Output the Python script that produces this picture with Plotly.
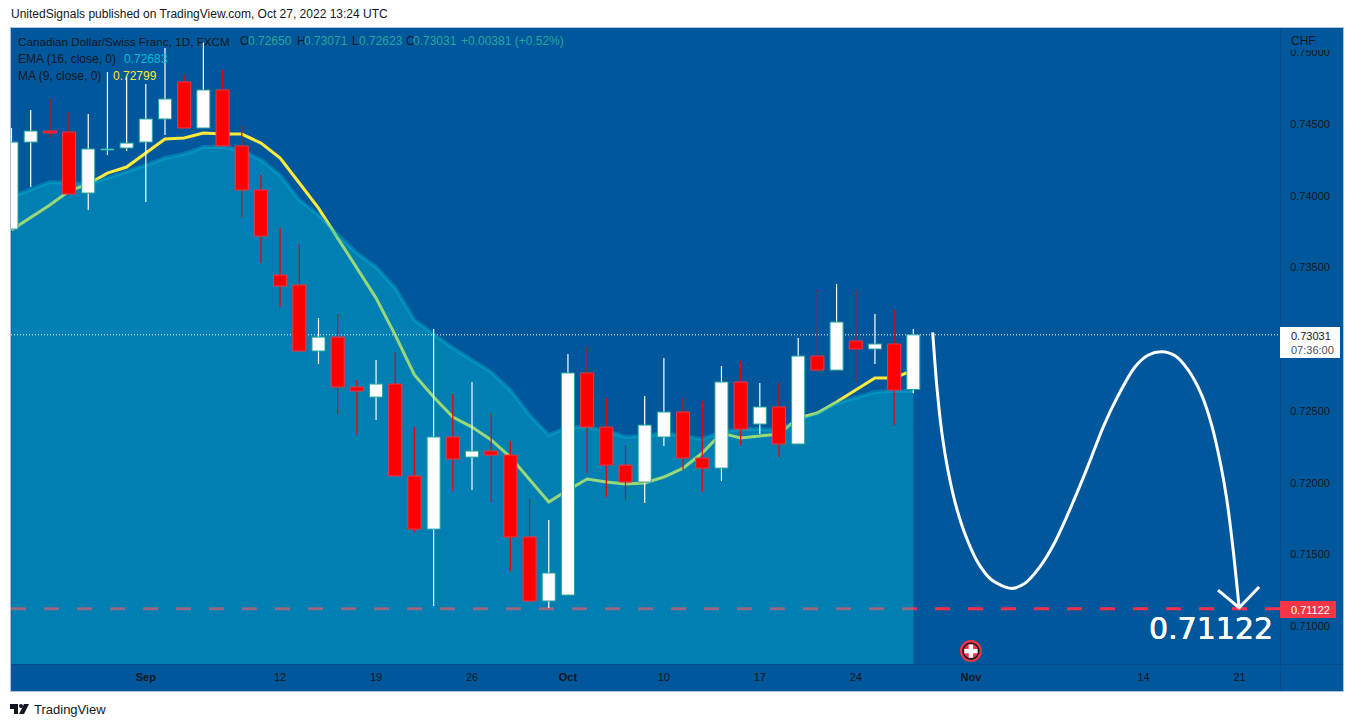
import plotly.graph_objects as go

# daily CADCHF candles (last one is Oct 27)
opens = [.73768, .74374, .74451, .74444, .74019, .74319, .74333, .74374, .74535, .74793, .74472, .74737,
         .74347, .74040, .73448, .73378, .72918, .73015, .72667, .72597, .72688, .72047, .71677, .72319,
         .72179, .72221, .72193, .71622, .71176, .71217, .72765, .72388, .72123, .72005, .72319, .72493,
         .72172, .72102, .72702, .72409, .72528, .72270, .72883, .72785, .72988, .72932, .72967, .72650]
highs = [.74472, .74597, .74674, .74583, .74570, .74862, .74827, .74779, .75030, .74841, .75071, .74876,
         .74486, .74144, .73775, .73664, .73148, .73176, .72716, .72855, .72911, .72388, .73071, .72618,
         .72702, .72486, .72291, .71886, .71740, .72897, .72946, .72590, .72263, .72604, .72869, .72590,
         .72569, .72813, .72848, .72695, .72695, .73008, .73343, .73385, .73343, .73176, .73204, .73071]
lows = [.73768, .74061, .74409, .74012, .73901, .74284, .74312, .73956, .74423, .74472, .74472, .74347,
        .73852, .73531, .73225, .72918, .72827, .72472, .72332, .72437, .72047, .71656, .71141, .71942,
        .71949, .71866, .71385, .71176, .71127, .71217, .72068, .71900, .71879, .71859, .72256, .72089,
        .71935, .72012, .72263, .72339, .72179, .72270, .72765, .72785, .72695, .72827, .72402, .72623]
closes = [.74374, .74451, .74437, .74012, .74326, .74326, .74367, .74535, .74674, .74472, .74737, .74347,
          .74040, .73719, .73371, .72918, .73015, .72667, .72639, .72688, .72047, .71677, .72319, .72165,
          .72221, .72193, .71622, .71176, .71371, .72765, .72388, .72123, .72005, .72402, .72493, .72172,
          .72102, .72702, .72374, .72528, .72270, .72883, .72785, .73120, .72932, .72967, .72646, .73031]
ema16 = [.73991, .74040, .74096, .74089, .74082, .74123, .74165, .74214, .74263, .74291, .74340, .74340,
         .74319, .74249, .74144, .73970, .73866, .73726, .73601, .73503, .73357, .73134, .73036, .72939,
         .72855, .72772, .72646, .72472, .72332, .72388, .72388, .72360, .72319, .72326, .72346, .72326,
         .72305, .72353, .72374, .72374, .72367, .72437, .72486, .72556, .72597, .72632, .72639, .72639]
ma9 = [.73761, .73845, .73935, .74033, .74082, .74158, .74200, .74298, .74395, .74402, .74437, .74430,
       .74430, .74367, .74263, .74089, .73914, .73705, .73496, .73287, .73029, .72751, .72597, .72458,
       .72388, .72298, .72179, .72019, .71866, .71949, .72026, .72005, .71991, .71998, .72040, .72102,
       .72207, .72346, .72312, .72326, .72339, .72451, .72486, .72563, .72646, .72730, .72730, .72785]
days = list(range(len(closes)))

last_price = 0.73031
target_price = 0.71122

# hand drawn forecast on the chart
path_x = [48.01, 48.22, 48.48, 48.82, 49.26, 49.78, 50.39, 51.09, 52.09, 52.82, 53.60, 54.39, 55.26, 56.12,
          56.90, 57.69, 58.56, 59.25, 59.95, 60.64, 61.33, 62.03, 62.55, 62.99, 63.33, 63.68, 63.98]
path_y = [.73048, .72681, .72356, .72077, .71822, .71613, .71438, .71322, .71264, .71299, .71415, .71589, .71845, .72123,
          .72390, .72611, .72808, .72890, .72913, .72885, .72785, .72611, .72402, .72146, .71891, .71519, .71129]
head_x = [62.88, 63.98, 65.02]
head_y = [.71252, .71129, .71273]

x_ticks = [7, 14, 19, 24, 29, 34, 39, 44, 50, 59, 64]
x_labels = ["<b>Sep</b>", "12", "19", "26", "<b>Oct</b>", "10", "17", "24", "<b>Nov</b>", "14", "21"]
y_ticks = [.75, .745, .74, .735, .725, .72, .715, .71]
y_labels = ["0.75000", "0.74500", "0.74000", "0.73500", "0.72500", "0.72000", "0.71500", "0.71000"]

X_RANGE = [-0.026, 66.11]
Y_RANGE = [.70737, .75169]

W, H = 1354, 727
L, R, T, B = 11, 1280, 28, 664
BG = "#01579b"
DARK = "#131722"
UP_LINE = "#26a69a"
DOWN_LINE = "#f23645"
FONT = "Liberation Sans"


def px(x):
    return (x - L) / (R - L)


def py(y):
    return (B - y) / (B - T)


fig = go.Figure()

# base layer: the area has to sit over the MA and the target line
fig.add_trace(go.Scatter(x=X_RANGE, y=[target_price, target_price], mode="lines",
                         line=dict(color="#ff2f4a", width=3, dash="15px,18px")))
fig.add_trace(go.Scatter(x=days, y=ma9, mode="lines", line=dict(color="#ffeb3b", width=3)))
fig.add_trace(go.Scatter(x=days, y=ema16, mode="lines", fill="tozeroy", fillcolor="rgba(0,188,212,0.4)",
                         line=dict(color="rgba(0,188,212,0.35)", width=4)))
fig.add_trace(go.Scatter(x=X_RANGE, y=[last_price, last_price], mode="lines",
                         line=dict(color="white", width=1, dash="1px,2px")))

# wicks on the second layer, bodies on the third so they cover the wicks
wick_x = {"up": [], "down": []}
wick_y = {"up": [], "down": []}
for d, o, h, l, c in zip(days, opens, highs, lows, closes):
    side = "up" if c >= o else "down"
    wick_x[side] += [d, d, None]
    wick_y[side] += [l, h, None]
fig.add_trace(go.Scatter(x=wick_x["up"], y=wick_y["up"], mode="lines", xaxis="x2", yaxis="y2",
                         line=dict(color="white", width=1.2)))
fig.add_trace(go.Scatter(x=wick_x["down"], y=wick_y["down"], mode="lines", xaxis="x2", yaxis="y2",
                         line=dict(color="#f00000", width=1.2)))

fig.add_trace(go.Bar(
    x=days,
    y=[abs(c - o) for o, c in zip(opens, closes)],
    base=[min(o, c) for o, c in zip(opens, closes)],
    width=0.68,
    marker=dict(
        color=["white" if c >= o else "#ff0000" for o, c in zip(opens, closes)],
        line=dict(color=[UP_LINE if c >= o else DOWN_LINE for o, c in zip(opens, closes)], width=1),
    ),
    xaxis="x3", yaxis="y3",
))

# forecast path and arrow head
fig.add_trace(go.Scatter(x=path_x, y=path_y, mode="lines", xaxis="x3", yaxis="y3",
                         line=dict(color="white", width=3, shape="spline", smoothing=0.8)))
fig.add_trace(go.Scatter(x=head_x, y=head_y, mode="lines", xaxis="x3", yaxis="y3",
                         line=dict(color="white", width=3)))

# event flag
for size, color, symbol, edge in [(22, DOWN_LINE, "circle", 0), (16, DOWN_LINE, "circle", 1.5), (11, "white", "cross", 0)]:
    fig.add_trace(go.Scatter(x=[50], y=[.70827], mode="markers", xaxis="x3", yaxis="y3",
                             marker=dict(size=size, color=color, symbol=symbol, line=dict(color=DARK, width=edge))))

fig.update_traces(hoverinfo="skip", showlegend=False)

overlay = dict(range=X_RANGE, visible=False, fixedrange=True)
overlay_y = dict(range=Y_RANGE, visible=False, fixedrange=True)
fig.update_layout(
    width=W, height=H,
    margin=dict(l=L, r=W - R, t=T, b=H - B, pad=0),
    paper_bgcolor="white",
    plot_bgcolor="rgba(0,0,0,0)",
    barmode="overlay",
    font=dict(family=FONT, color=DARK, size=11),
    xaxis=dict(range=X_RANGE, tickvals=x_ticks, ticktext=x_labels, showgrid=False, zeroline=False,
               ticks="outside", ticklen=3, tickcolor="rgba(0,0,0,0)", showline=False, tickfont=dict(size=11, color=DARK)),
    yaxis=dict(range=Y_RANGE, tickvals=y_ticks, ticktext=y_labels, side="right", showgrid=False, zeroline=False,
               ticks="outside", ticklen=7, tickcolor="rgba(0,0,0,0)", showline=False, tickfont=dict(size=11, color=DARK)),
    xaxis2=dict(overlaying="x", **overlay),
    yaxis2=dict(overlaying="y", **overlay_y),
    xaxis3=dict(overlaying="x", **overlay),
    yaxis3=dict(overlaying="y", **overlay_y),
)


def rect(x0, y0, x1, y1, fill, line=None, layer="above"):
    fig.add_shape(type="rect", xref="paper", yref="paper", x0=px(x0), x1=px(x1), y0=py(y0), y1=py(y1),
                  fillcolor=fill, line=dict(color=line or fill, width=1 if line else 0), layer=layer)


def label(text, x, y, color=DARK, size=12, anchor="left", family=FONT, shadow=None):
    font = dict(family=family, size=size, color=color)
    if shadow:
        font["shadow"] = shadow
    fig.add_annotation(text=text, xref="paper", yref="paper", x=px(x), y=py(y), xanchor=anchor, yanchor="middle",
                       showarrow=False, font=font, borderpad=0)


# chart frame, price scale and time scale
rect(10.5, 27.5, 1343.5, 691.5, BG, "#a9c3e0", layer="below")
rect(1280, 28, 1281, 691, "#014d8c", layer="below")
rect(11, 664, 1343, 665, "#014d8c", layer="below")
rect(1281, 28, 1343, 50, BG)  # top price label is cut off by the CHF header

# price labels
rect(1280, 327, 1340, 358, "white")
rect(1280, 601, 1336, 618, DOWN_LINE)
label("CHF", 1290, 41)
label("0.73031", 1290, 336, size=11)
label("07:36:00", 1290, 350, color="#4a4f5c", size=11)
label("0.71122", 1290, 610, color="white", size=11)
label("0.71122", 1148, 628, color="white", size=30, family="DejaVu Sans",
      shadow="0.3px 0 0 white, -0.3px 0 0 white")

# header lines
label("UnitedSignals published on TradingView.com, Oct 27, 2022 13:24 UTC", 10, 14)
label("Canadian Dollar/Swiss Franc, 1D, FXCM", 17, 41, size=11.7)
for letter, x_letter, value, x_value in [("O", 239, "0.72650", 247), ("H", 296, "0.73071", 303),
                                         ("L", 351, "0.72623", 358), ("C", 405, "0.73031", 412)]:
    label(letter, x_letter, 41)
    label(value, x_value, 41, color=UP_LINE)
label("+0.00381 (+0.52%)", 460, 41, color=UP_LINE)
label("EMA (16, close, 0)", 17, 59)
label("0.72683", 123, 59, color="#00bcd4")
label("MA (9, close, 0)", 17, 76)
label("0.72799", 112, 76, color="#ffeb3b")

# footer logo
label("TradingView", 33, 709, size=13)
fig.add_shape(type="path", xref="paper", yref="paper", fillcolor=DARK, line=dict(width=0),
              path=f"M{px(10)},{py(704)} L{px(18)},{py(704)} L{px(18)},{py(714)} L{px(14)},{py(714)} L{px(14)},{py(709)} L{px(10)},{py(709)} Z")
fig.add_shape(type="path", xref="paper", yref="paper", fillcolor=DARK, line=dict(width=0),
              path=f"M{px(24)},{py(704)} L{px(29)},{py(704)} L{px(24)},{py(714)} L{px(19)},{py(714)} Z")
fig.add_shape(type="circle", xref="paper", yref="paper", fillcolor=DARK, line=dict(width=0),
              x0=px(19), x1=px(23), y0=py(708), y1=py(704))

# the page's default body margin would push the fixed-size chart off by 8px
fig.write_html("out.html", config=dict(displayModeBar=False), post_script="document.body.style.margin='0';")
